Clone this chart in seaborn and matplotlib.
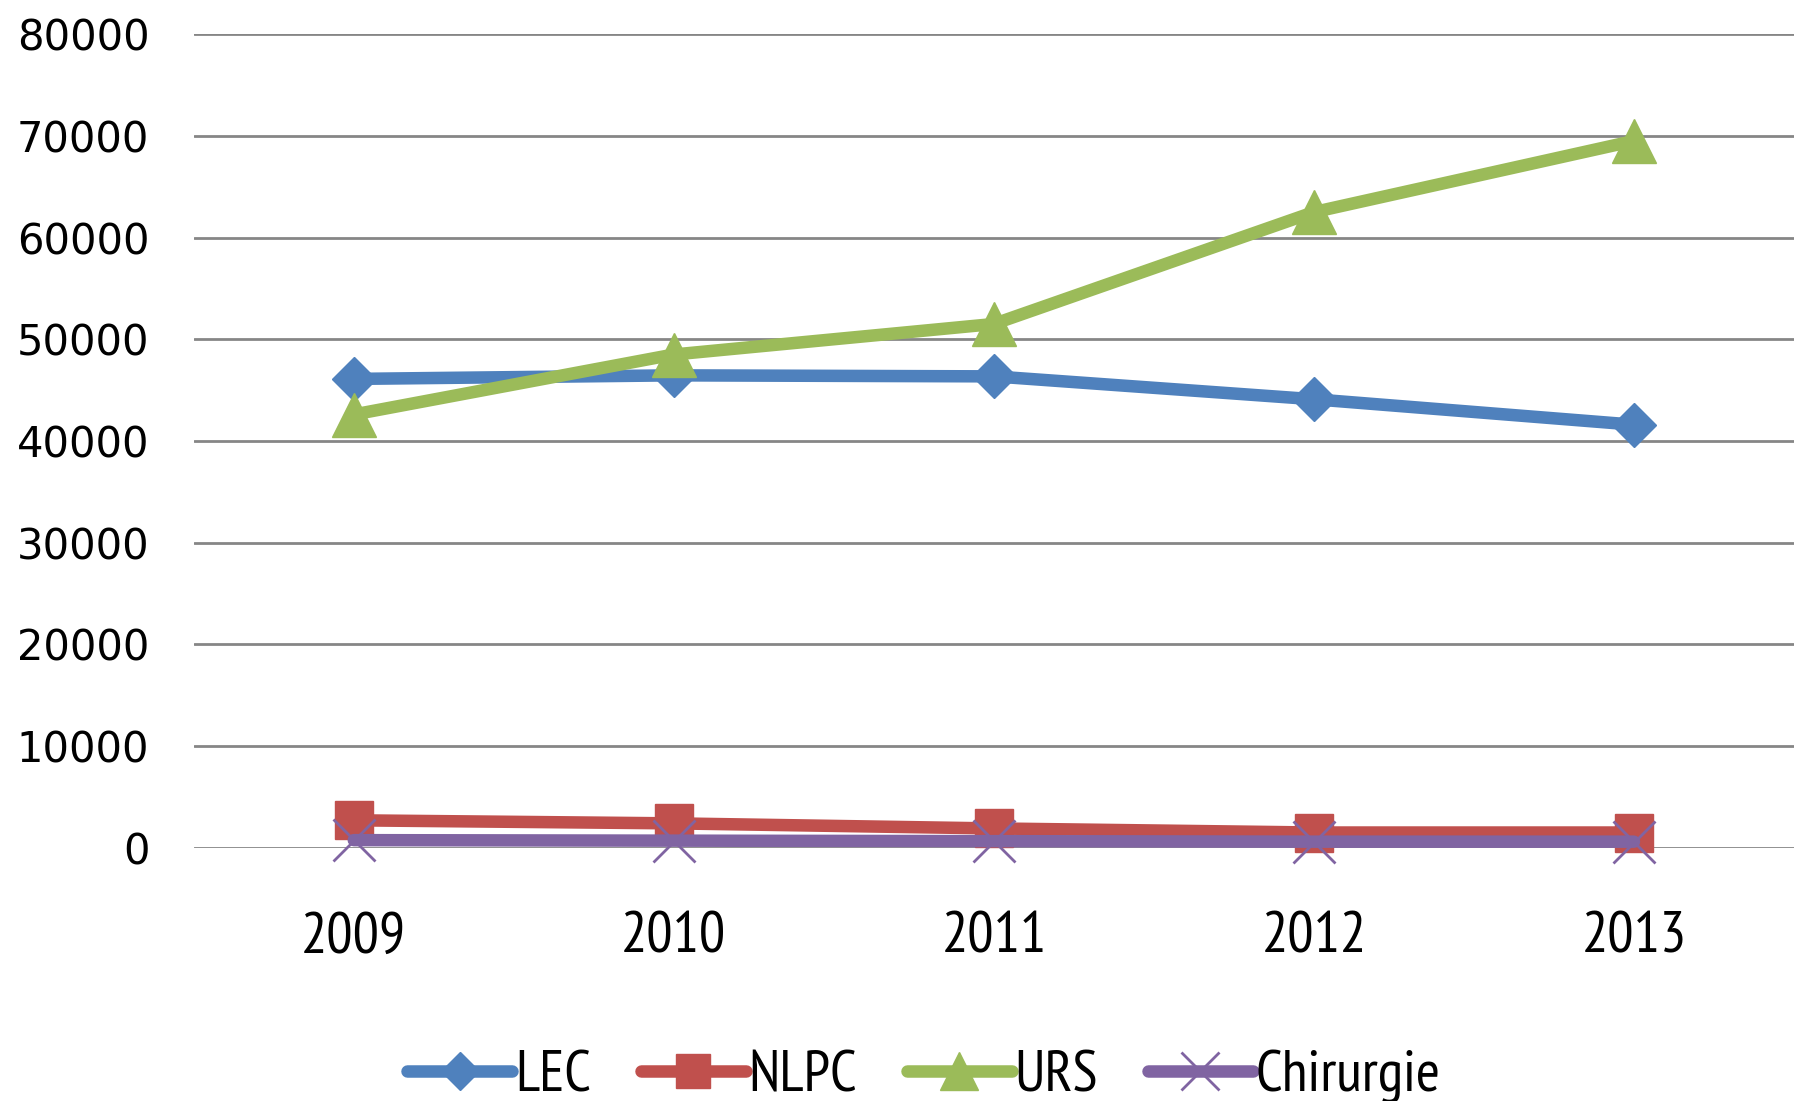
import pandas as pd
import matplotlib.pyplot as plt
import seaborn as sns

years = [2009, 2010, 2011, 2012, 2013]
lec = [46100, 46450, 46350, 44100, 41600]
nlpc = [2700, 2400, 1900, 1500, 1500]
urs = [42600, 48500, 51500, 62500, 69500]
chirurgie = [750, 700, 650, 600, 600]

series = ["LEC", "NLPC", "URS", "Chirurgie"]
values = [lec, nlpc, urs, chirurgie]

df = pd.DataFrame({
    "year": years * len(series),
    "count": [v for vals in values for v in vals],
    "series": [s for s in series for _ in years],
})

colors = {"LEC": "#4F81BD", "NLPC": "#C0504D", "URS": "#9BBB59", "Chirurgie": "#8064A2"}
markers = {"LEC": ("D", 22), "NLPC": ("s", 27), "URS": ("^", 31), "Chirurgie": ("x", 30)}
narrow = "PT Sans Narrow"

sns.set_style("white")
fig = plt.figure(figsize=(17.94, 11.01), dpi=100)
ax = fig.add_axes([0.108, 0.23, 0.892, 0.739])

for s in series:
    m, ms = markers[s]
    grp = df[df["series"] == s]
    sns.lineplot(data=grp, x="year", y="count", ax=ax, color=colors[s], lw=9,
                 marker=m, markersize=ms, markeredgecolor=colors[s],
                 markeredgewidth=2 if m == "x" else 1, label=s, clip_on=False,
                 zorder=3)

ax.set_xlim(2008.5, 2013.5)
ax.set_ylim(0, 80000)
ax.set_yticks(range(0, 80001, 10000))
ax.set_xticks(years)
ax.set_xticklabels([str(y) for y in years], fontsize=42, family=narrow, color="black")
ax.set_yticklabels([str(v) for v in range(0, 80001, 10000)], fontsize=30,
                   family="DejaVu Sans", color="black")
ax.tick_params(axis="x", length=0, pad=46)
ax.tick_params(axis="y", length=0, pad=32)
ax.yaxis.grid(True, color="#868686", lw=2)
ax.set_axisbelow(True)
for sp in ax.spines.values():
    sp.set_visible(False)
ax.set_xlabel("")
ax.set_ylabel("")

leg = ax.legend(loc="center", bbox_to_anchor=(0.515, 0.022), bbox_transform=fig.transFigure,
                ncol=4, frameon=False, handlelength=1.8, handletextpad=0.05, columnspacing=0.85,
                prop={"family": narrow, "size": 42}, markerscale=0.9)
for t in leg.get_texts():
    t.set_color("black")

fig.savefig("out.png", dpi=100)
